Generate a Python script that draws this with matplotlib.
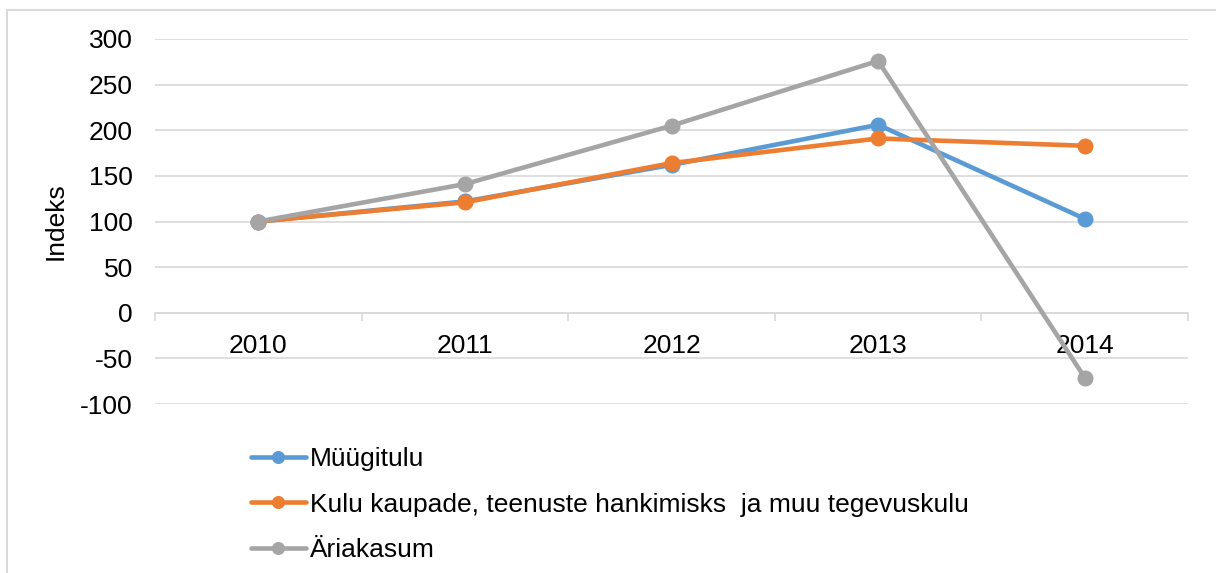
import matplotlib
matplotlib.use("Agg")
import matplotlib.pyplot as plt
from matplotlib.lines import Line2D
import numpy as np

plt.rcParams["font.family"] = ["Liberation Sans", "DejaVu Sans"]
plt.rcParams["axes.unicode_minus"] = False

years = ["2010", "2011", "2012", "2013", "2014"]
myygitulu = [100, 122, 162, 206, 103]
kulu = [100, 121, 164, 191, 183]
ariakasum = [100, 141, 205, 276, -71]
series_names = ["Müügitulu",
                "Kulu kaupade, teenuste hankimisks  ja muu tegevuskulu",
                "Äriakasum"]
colors = ["#5B9BD5", "#ED7D31", "#A5A5A5"]
grid_c = "#D9D9D9"
fs = 19

fig = plt.figure(figsize=(12.16, 5.73), dpi=100)
ax = fig.add_axes([155/1216, 1 - 404/573, (1188 - 155)/1216, (404 - 39)/573])

x = np.arange(len(years))
for vals, name, c in zip([myygitulu, kulu, ariakasum], series_names, colors):
    ax.plot(x, vals, color=c, lw=3.3, marker="o", ms=10.5, label=name,
            solid_capstyle="round", zorder=3)

ax.set_xlim(-0.5, len(years) - 0.5)
ax.set_ylim(-100, 300)
ax.set_yticks(range(-100, 301, 50))
ax.yaxis.grid(True, color=grid_c, lw=1.2)
ax.set_axisbelow(True)
for s in ["top", "right", "left"]:
    ax.spines[s].set_visible(False)
ax.spines["bottom"].set_position(("data", 0))
ax.spines["bottom"].set_color(grid_c)
ax.spines["bottom"].set_linewidth(1.2)

ax.set_xticks(x)
ax.set_xticklabels(years)
ax.set_xticks(np.arange(-0.5, len(years)), minor=True)
ax.tick_params(axis="x", which="major", length=0, pad=15, labelsize=fs)
ax.tick_params(axis="x", which="minor", length=6, color=grid_c, width=1.2)
ax.tick_params(axis="y", length=0, pad=16, labelsize=fs)
ax.set_ylabel("Indeks", fontsize=fs, labelpad=9)

fig.legend(loc="upper left", bbox_to_anchor=(251/1216, 1 - 447/573),
           frameon=False, fontsize=fs, handlelength=2.08, handletextpad=0.15,
           labelspacing=0.82, borderpad=0, borderaxespad=0, markerscale=0.8)

# light outer frame (top and left edges visible)
fig.add_artist(Line2D([7/1216, 7/1216], [0, 1 - 10/573], color=grid_c, lw=1.5,
                      transform=fig.transFigure))
fig.add_artist(Line2D([7/1216, 1], [1 - 10/573, 1 - 10/573], color=grid_c, lw=1.5,
                      transform=fig.transFigure))

fig.savefig("out.png", dpi=100)
